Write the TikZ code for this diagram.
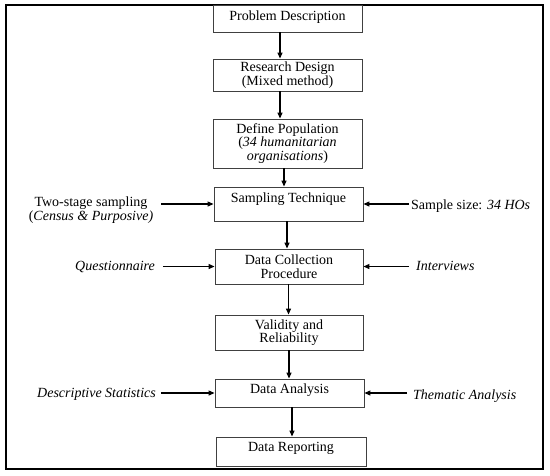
\documentclass[tikz,border=0pt]{standalone}
\usepackage{fontspec}
\setmainfont{Liberation Serif}
\usetikzlibrary{arrows.meta}
\begin{document}
\begin{tikzpicture}[x=1pt,y=-1pt,
  font=\fontsize{14}{13.5}\selectfont,
  box/.style={draw=black!75, line width=0.9pt, fill=white, inner sep=0pt, align=center},
  arr/.style={line width=1.2pt, -{Triangle[length=6pt,width=5pt]}},
  lbl/.style={inner sep=0pt, align=center}]
\useasboundingbox (0,0) rectangle (550,475);
\draw[line width=2pt] (6,5) rectangle (543,469);
% main boxes
\node[box, minimum width=149pt, minimum height=27pt, text height=10pt, text depth=6pt] (PD) at (287.5,18.5) {Problem Description};
\node[box, minimum width=149pt, minimum height=32pt] (RD) at (287.5,75) {Research Design\\(Mixed method)};
\node[box, minimum width=149pt, minimum height=49pt] (DP) at (287.5,143.5) {Define Population\\(\textit{34 humanitarian}\\\textit{organisations})};
\node[box, minimum width=149pt, minimum height=34pt, text height=10pt, text depth=13pt] (ST) at (288.5,204) {Sampling Technique};
\node[box, minimum width=148pt, minimum height=35pt] (DC) at (289,266.5) {Data Collection\\Procedure};
\node[box, minimum width=148pt, minimum height=35pt] (VR) at (289,332.5) {Validity and\\Reliability};
\node[box, minimum width=149pt, minimum height=28pt, text height=10pt, text depth=9pt] (DA) at (289.5,393) {Data Analysis};
\node[box, minimum width=150pt, minimum height=29pt, text height=10pt, text depth=10pt] (DR) at (291,451.5) {Data Reporting};
% side labels
\node[lbl] (TS) at (91,210) {Two-stage sampling\\(\textit{Census \& Purposive)}};
\node[lbl, anchor=base west] (SS) at (411,209.5) {Sample size: \textit{34 HOs}};
\node[lbl, anchor=base west] (QU) at (75,270.5) {\textit{Questionnaire}};
\node[lbl, anchor=base west] (IV) at (416,270.5) {\textit{Interviews}};
\node[lbl, anchor=base west] (DS) at (37,397.5) {\textit{Descriptive Statistics}};
\node[lbl, anchor=base west] (TA) at (413,399.5) {\textit{Thematic Analysis}};
% vertical arrows
\draw[arr] ([xshift=-7.5pt]PD.south) -- ([xshift=-7.5pt]PD.south |- RD.north);
\draw[arr] ([xshift=-7.5pt]RD.south) -- ([xshift=-7.5pt]RD.south |- DP.north);
\draw[arr] ([xshift=-3.5pt]DP.south) -- ([xshift=-3.5pt]DP.south |- ST.north);
\draw[arr] ([xshift=-1.5pt]ST.south) -- ([xshift=-1.5pt]ST.south |- DC.north);
\draw[arr] ([xshift=-0.5pt]DC.south) -- ([xshift=-0.5pt]DC.south |- VR.north);
\draw[arr] (VR.south) -- (VR.south |- DA.north);
\draw[arr] ([xshift=2.5pt]DA.south) -- ([xshift=2.5pt]DA.south |- DR.north);
% side arrows
\draw[arr] ([xshift=8pt]TS.east |- ST.west) -- (ST.west);
\draw[arr] ([xshift=-2pt]SS.west |- ST.east) -- (ST.east);
\draw[arr] ([xshift=8pt]QU.east |- DC.west) -- (DC.west);
\draw[arr] ([xshift=-7pt]IV.west |- DC.east) -- (DC.east);
\draw[arr] ([xshift=5pt]DS.east |- DA.west) -- (DA.west);
\draw[arr] ([xshift=-6pt]TA.west |- DA.east) -- (DA.east);
\end{tikzpicture}
\end{document}
